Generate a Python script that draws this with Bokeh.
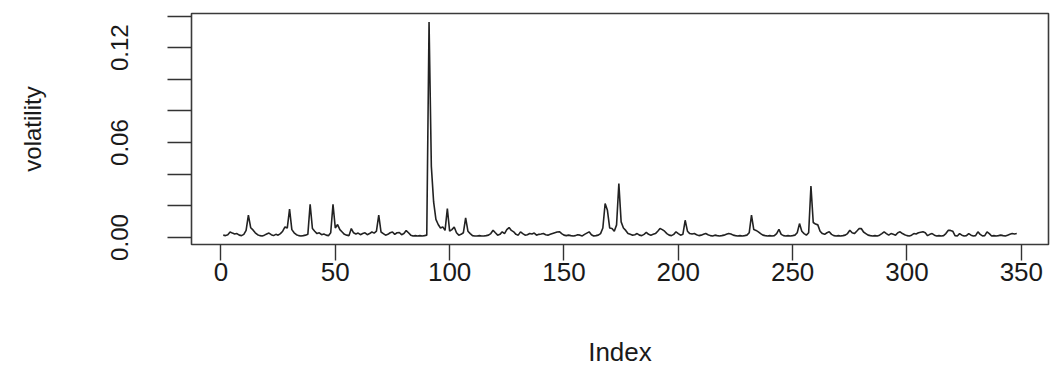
import math
from bokeh.plotting import figure
from bokeh.models import Range1d, FixedTicker, NumeralTickFormatter, ColumnDataSource
from bokeh.embed import file_html
from bokeh.resources import INLINE

# volatility values, index 1..348
volatility = [
    0.0015, 0.0012, 0.0018, 0.0035, 0.0028, 0.0022, 0.0025, 0.0015, 0.0012, 0.0020,  # 1-10
    0.0045, 0.0141, 0.0062, 0.0048, 0.0030, 0.0018, 0.0012, 0.0010, 0.0015, 0.0022,  # 11-20
    0.0028, 0.0018, 0.0012, 0.0020, 0.0015, 0.0025, 0.0040, 0.0067, 0.0060, 0.0179,  # 21-30
    0.0050, 0.0030, 0.0018, 0.0012, 0.0010, 0.0012, 0.0015, 0.0020, 0.0210, 0.0057,  # 31-40
    0.0040, 0.0025, 0.0030, 0.0018, 0.0022, 0.0015, 0.0012, 0.0030, 0.0210, 0.0060,  # 41-50
    0.0082, 0.0050, 0.0035, 0.0020, 0.0015, 0.0012, 0.0057, 0.0030, 0.0022, 0.0028,  # 51-60
    0.0018, 0.0025, 0.0030, 0.0018, 0.0025, 0.0035, 0.0028, 0.0040, 0.0141, 0.0035,  # 61-70
    0.0025, 0.0015, 0.0020, 0.0030, 0.0035, 0.0020, 0.0030, 0.0032, 0.0018, 0.0025,  # 71-80
    0.0044, 0.0030, 0.0015, 0.0010, 0.0012, 0.0010, 0.0012, 0.0010, 0.0012, 0.0015,  # 81-90
    0.1362, 0.0450, 0.0225, 0.0115, 0.0082, 0.0060, 0.0067, 0.0045, 0.0183, 0.0040,  # 91-100
    0.0050, 0.0067, 0.0030, 0.0015, 0.0020, 0.0030, 0.0124, 0.0040, 0.0025, 0.0012,  # 101-110
    0.0010, 0.0010, 0.0012, 0.0010, 0.0010, 0.0012, 0.0015, 0.0025, 0.0046, 0.0030,  # 111-120
    0.0015, 0.0020, 0.0036, 0.0025, 0.0050, 0.0063, 0.0045, 0.0036, 0.0020, 0.0015,  # 121-130
    0.0036, 0.0025, 0.0015, 0.0018, 0.0025, 0.0022, 0.0028, 0.0015, 0.0020, 0.0022,  # 131-140
    0.0025, 0.0018, 0.0015, 0.0020, 0.0025, 0.0030, 0.0035, 0.0037, 0.0025, 0.0015,  # 141-150
    0.0012, 0.0015, 0.0012, 0.0010, 0.0012, 0.0018, 0.0015, 0.0010, 0.0020, 0.0028,  # 151-160
    0.0036, 0.0018, 0.0010, 0.0012, 0.0015, 0.0025, 0.0060, 0.0215, 0.0172, 0.0060,  # 161-170
    0.0057, 0.0040, 0.0080, 0.0341, 0.0099, 0.0060, 0.0045, 0.0025, 0.0020, 0.0015,  # 171-180
    0.0018, 0.0025, 0.0015, 0.0012, 0.0020, 0.0032, 0.0020, 0.0015, 0.0020, 0.0025,  # 181-190
    0.0040, 0.0057, 0.0050, 0.0040, 0.0025, 0.0015, 0.0012, 0.0020, 0.0036, 0.0025,  # 191-200
    0.0015, 0.0020, 0.0109, 0.0040, 0.0025, 0.0022, 0.0025, 0.0018, 0.0012, 0.0015,  # 201-210
    0.0020, 0.0025, 0.0018, 0.0012, 0.0010, 0.0015, 0.0012, 0.0010, 0.0012, 0.0015,  # 211-220
    0.0020, 0.0025, 0.0022, 0.0015, 0.0012, 0.0010, 0.0012, 0.0010, 0.0012, 0.0015,  # 221-230
    0.0030, 0.0141, 0.0050, 0.0045, 0.0036, 0.0025, 0.0015, 0.0012, 0.0010, 0.0012,  # 231-240
    0.0010, 0.0012, 0.0025, 0.0051, 0.0020, 0.0012, 0.0010, 0.0012, 0.0010, 0.0012,  # 241-250
    0.0015, 0.0030, 0.0088, 0.0040, 0.0025, 0.0015, 0.0030, 0.0326, 0.0095, 0.0085,  # 251-260
    0.0080, 0.0040, 0.0025, 0.0020, 0.0030, 0.0036, 0.0020, 0.0012, 0.0010, 0.0012,  # 261-270
    0.0010, 0.0012, 0.0015, 0.0025, 0.0046, 0.0030, 0.0025, 0.0040, 0.0056, 0.0057,  # 271-280
    0.0035, 0.0025, 0.0015, 0.0012, 0.0010, 0.0012, 0.0010, 0.0015, 0.0025, 0.0036,  # 281-290
    0.0025, 0.0015, 0.0025, 0.0020, 0.0015, 0.0030, 0.0036, 0.0025, 0.0018, 0.0012,  # 291-300
    0.0010, 0.0015, 0.0025, 0.0022, 0.0030, 0.0033, 0.0036, 0.0030, 0.0012, 0.0020,  # 301-310
    0.0025, 0.0015, 0.0010, 0.0012, 0.0010, 0.0012, 0.0025, 0.0045, 0.0045, 0.0040,  # 311-320
    0.0012, 0.0010, 0.0025, 0.0015, 0.0010, 0.0012, 0.0025, 0.0015, 0.0010, 0.0012,  # 321-330
    0.0036, 0.0020, 0.0010, 0.0012, 0.0036, 0.0025, 0.0010, 0.0012, 0.0010, 0.0012,  # 331-340
    0.0015, 0.0012, 0.0010, 0.0015, 0.0020, 0.0025, 0.0022, 0.0025,                  # 341-348
]
index = list(range(1, len(volatility) + 1))

x_ticks = [0, 50, 100, 150, 200, 250, 300, 350]
y_labeled_ticks = [0.00, 0.06, 0.12]
y_unlabeled_ticks = [0.02, 0.04, 0.08, 0.10, 0.14]

# R-style 4% range extension
xr = index[-1] - index[0]
ymin, ymax = min(volatility), max(volatility)
yr = ymax - ymin

p = figure(
    width=1060, height=369,
    output_backend="svg", toolbar_location=None,
    x_range=Range1d(index[0] - 0.04 * xr, index[-1] + 0.04 * xr),
    y_range=Range1d(ymin - 0.04 * yr, ymax + 0.04 * yr),
    min_border_left=191, min_border_right=12, min_border_top=13, min_border_bottom=124,
    background_fill_color="white", border_fill_color="white",
)
p.grid.visible = False
p.outline_line_color = "#3a3a3a"
p.outline_line_width = 1.6

src = ColumnDataSource(dict(x=index, y=volatility))
p.line("x", "y", source=src, line_color="#222222", line_width=1.6)

FONT = "Liberation Sans"

# x axis
xa = p.xaxis[0]
xa.ticker = FixedTicker(ticks=x_ticks, minor_ticks=[])
xa.axis_line_color = None
xa.major_tick_line_color = "#333333"
xa.major_tick_line_width = 1.4
xa.major_tick_out = 16
xa.major_tick_in = 0
xa.minor_tick_line_color = None
xa.major_label_text_font = FONT
xa.major_label_text_font_size = "26px"
xa.major_label_text_color = "#1a1a1a"
xa.major_label_standoff = 2
xa.axis_label = "Index"
xa.axis_label_text_font = FONT
xa.axis_label_text_font_size = "26px"
xa.axis_label_text_font_style = "normal"
xa.axis_label_text_color = "#1a1a1a"
xa.axis_label_standoff = 53

# y axis
ya = p.yaxis[0]
ya.ticker = FixedTicker(ticks=y_labeled_ticks, minor_ticks=y_unlabeled_ticks)
ya.formatter = NumeralTickFormatter(format="0.00")
ya.axis_line_color = None
ya.major_tick_line_color = "#333333"
ya.major_tick_line_width = 1.4
ya.major_tick_out = 24
ya.major_tick_in = 0
ya.minor_tick_line_color = "#333333"
ya.minor_tick_line_width = 1.4
ya.minor_tick_out = 24
ya.minor_tick_in = 0
ya.major_label_orientation = "parallel"
ya.major_label_text_font = FONT
ya.major_label_text_font_size = "24px"
ya.major_label_text_color = "#1a1a1a"
ya.major_label_standoff = 39
ya.axis_label = "volatility"
ya.axis_label_text_font = FONT
ya.axis_label_text_font_size = "24px"
ya.axis_label_text_font_style = "normal"
ya.axis_label_text_color = "#1a1a1a"
ya.axis_label_standoff = 63

open("out.html", "w").write(file_html(p, INLINE))
